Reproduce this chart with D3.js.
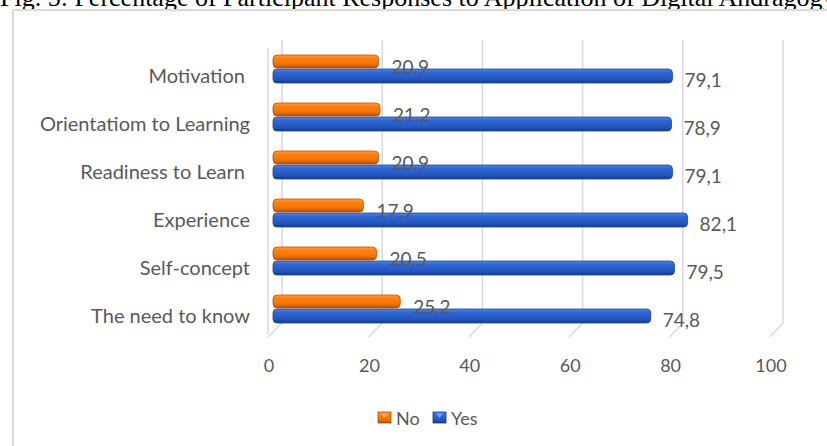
<!DOCTYPE html>
<html>
<head>
<meta charset="utf-8">
<script src="https://cdn.jsdelivr.net/npm/d3@7"></script>
<style>
  html, body { margin: 0; padding: 0; background: #fff; overflow: hidden; }
  svg { display: block; }
  text { font-family: Lato, "Open Sans", sans-serif; fill: #595959; }
</style>
</head>
<body>
<svg id="chart" width="827" height="446"></svg>
<script>
// ---- data ----
const categories = ["Motivation ", "Orientatiom to Learning", "Readiness to Learn ", "Experience", "Self-concept", "The need to know"];
const noValues  = [20.9, 21.2, 20.9, 17.9, 20.5, 25.2];
const yesValues = [79.1, 78.9, 79.1, 82.1, 79.5, 74.8];
const tickValues = [0, 20, 40, 60, 80, 100];
const seriesNames = ["No", "Yes"];
const titleText = "Fig. 5: Percentage of Participant Responses to Application of Digital Andragogy";

const fmt = v => d3.format(".1f")(v).replace(".", ",");

const svg = d3.select("#chart");

// gradients
const defs = svg.append("defs");
function grad(id, stops) {
  const g = defs.append("linearGradient").attr("id", id)
    .attr("x1", 0).attr("y1", 0).attr("x2", 0).attr("y2", 1);
  stops.forEach(s => g.append("stop").attr("offset", s[0]).attr("stop-color", s[1]));
}
grad("gNo",  [[0, "#ff9a3c"], [0.25, "#ff8113"], [0.7, "#f07306"], [1, "#a94f05"]]);
grad("gYes", [[0, "#4f86ea"], [0.25, "#2f66d3"], [0.7, "#2458c2"], [1, "#173b87"]]);

// title (cut at top, as in the reference)
svg.append("text")
  .attr("x", 0).attr("y", 6)
  .style("font-family", "'Liberation Serif', 'DejaVu Serif', serif")
  .style("font-size", "26px")
  .style("fill", "#000")
  .text(titleText);

// frame
svg.append("rect")
  .attr("x", 13).attr("y", 10).attr("width", 900).attr("height", 500)
  .attr("fill", "none").attr("stroke", "#d9d9d9").attr("stroke-width", 2);

// scales
const xBack  = d3.scaleLinear().domain([0, 100]).range([282, 783]);
const xFront = d3.scaleLinear().domain([0, 100]).range([268, 770]);
const xBar   = d3.scaleLinear().domain([0, 100]).range([273, 778]);
const y = d3.scaleBand().domain(categories).range([45, 333]);
const yTopBack = 40, yBottomBack = 323, yFloor = 337;

// gridlines (back wall + floor diagonal)
const grid = svg.append("g").attr("fill", "none").attr("stroke", "#d9d9d9").attr("stroke-width", 1.5);
tickValues.forEach(t => {
  grid.append("path").attr("d",
    `M${xBack(t)},${yTopBack} L${xBack(t)},${yBottomBack} L${xFront(t)},${yFloor}`);
});
// left wall edge
grid.append("path").attr("d", `M${xFront(0)},48 L${xFront(0)},${yFloor - 3}`);

// x tick labels
svg.append("g").selectAll("text").data(tickValues).join("text")
  .attr("x", d => xFront(d) + 1).attr("y", 365)
  .attr("text-anchor", "middle").attr("dominant-baseline", "central")
  .style("font-size", "18px")
  .text(d => d);

// category labels
svg.append("g").selectAll("text").data(categories).join("text")
  .attr("x", 250).attr("y", d => y(d) + y.bandwidth() / 2 + 6)
  .attr("text-anchor", "end").attr("dominant-baseline", "central")
  .style("font-size", "20px").style("white-space", "pre")
  .text(d => d);

// bars
const rows = categories.map((c, i) => ({ c, no: noValues[i], yes: yesValues[i] }));
const cy = d => y(d.c) + y.bandwidth() / 2;

function drawBar(sel, val, yOff, h, fill, stroke) {
  sel.append("rect")
    .attr("x", xBar(0)).attr("y", d => cy(d) + yOff)
    .attr("width", d => xBar(d[val]) - xBar(0)).attr("height", h)
    .attr("rx", 4).attr("ry", 4)
    .attr("fill", fill).attr("stroke", stroke).attr("stroke-width", 0.8);
}
const gBars = svg.append("g").selectAll("g").data(rows).join("g");
drawBar(gBars, "yes", 0, 14, "url(#gYes)", "#1b4497");
drawBar(gBars, "no", -14, 13, "url(#gNo)", "#b9590a");

// value labels
const gLab = svg.append("g");
gLab.selectAll("text.no").data(rows).join("text").attr("class", "no")
  .attr("x", d => xBar(d.no) + 13).attr("y", d => cy(d) - 3)
  .attr("dominant-baseline", "central").style("font-size", "19px")
  .text(d => fmt(d.no));
gLab.selectAll("text.yes").data(rows).join("text").attr("class", "yes")
  .attr("x", d => xBar(d.yes) + 12).attr("y", d => cy(d) + 10)
  .attr("dominant-baseline", "central").style("font-size", "19px")
  .text(d => fmt(d.yes));

// legend
const legendX = [378, 433];
const legendFill = ["url(#gNo)", "url(#gYes)"];
const legendStroke = ["#a94f05", "#173b87"];
const lg = svg.append("g").selectAll("g").data(seriesNames).join("g");
lg.append("rect")
  .attr("x", (d, i) => legendX[i]).attr("y", 412).attr("width", 13).attr("height", 11)
  .attr("fill", (d, i) => legendFill[i]).attr("stroke", (d, i) => legendStroke[i]).attr("stroke-width", 0.8);
lg.append("path")
  .attr("d", (d, i) => `M${legendX[i] + 3},${413.5} L${legendX[i] + 10},${413.5} L${legendX[i] + 6.5},${418}Z`)
  .attr("fill", (d, i) => i === 0 ? "#ffb066" : "#7aa6f5").attr("opacity", 0.9);
lg.append("text")
  .attr("x", (d, i) => legendX[i] + 18).attr("y", 417.5)
  .attr("dominant-baseline", "central").style("font-size", "18px")
  .text(d => d);
</script>
</body>
</html>
